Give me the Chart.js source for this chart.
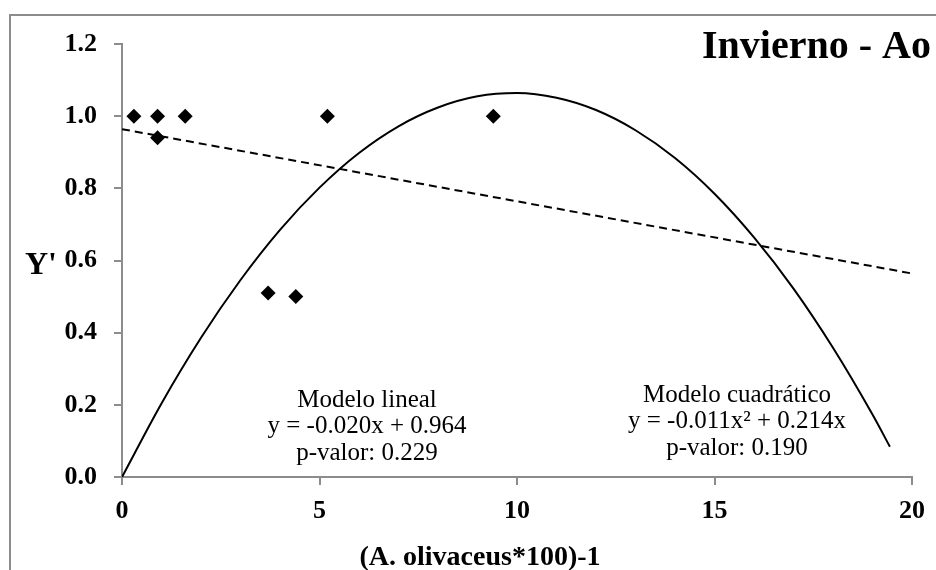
<!DOCTYPE html>
<html>
<head>
<meta charset="utf-8">
<script src="https://cdn.jsdelivr.net/npm/chart.js@4/dist/chart.umd.min.js"></script>
<style>
  html, body { margin: 0; padding: 0; background: #fff; }
  #wrap { position: relative; width: 936px; height: 570px; overflow: hidden; }
  #frame { position: absolute; left: 9px; top: 14px; width: 960px; height: 600px; border: 2px solid #8c8c8c; }
  canvas { position: absolute; left: 0; top: 0; }
</style>
</head>
<body>
<div id="wrap">
  <div id="frame"></div>
  <canvas id="chart" width="936" height="570"></canvas>
</div>
<script>
// observed points
const obsX = [0.3, 0.9, 0.9, 1.6, 3.7, 4.4, 5.2, 9.4];
const obsY = [1.0, 1.0, 0.94, 1.0, 0.51, 0.50, 1.0, 1.0];

// linear model (dashed), read at both ends
const linX = [0, 20];
const linY = [0.964, 0.564];

// quadratic model (solid)
const quadX = [0, 1, 2, 3, 4, 5, 6, 7, 8, 9, 10, 11, 12, 13, 14, 15, 16, 17, 18, 19, 19.44];
const quadY = [0.0, 0.204, 0.386, 0.546, 0.685, 0.802, 0.898, 0.972, 1.024, 1.055, 1.064,
               1.051, 1.017, 0.961, 0.884, 0.785, 0.664, 0.522, 0.358, 0.173, 0.084];

const xTicks = [0, 5, 10, 15, 20];
const yTicks = [0, 0.2, 0.4, 0.6, 0.8, 1.0, 1.2];

const toXY = (xs, ys) => xs.map((x, i) => ({ x: x, y: ys[i] }));

const SERIF = '"Liberation Serif", "Times New Roman", serif';
const AXIS = '#8c8c8c';

// texts drawn on top
const textPlugin = {
  id: 'texts',
  afterDraw(chart) {
    const ctx = chart.ctx;
    ctx.save();
    ctx.fillStyle = '#000';

    ctx.font = 'bold 40px ' + SERIF;
    ctx.textAlign = 'left';
    ctx.textBaseline = 'alphabetic';
    ctx.fillText('Invierno - Ao', 702, 58);

    ctx.font = 'bold 32px ' + SERIF;
    ctx.fillText("Y'", 25, 274);

    ctx.font = 'bold 28px ' + SERIF;
    ctx.textAlign = 'center';
    ctx.fillText('(A. olivaceus*100)-1', 480, 565);

    ctx.font = '25px ' + SERIF;
    ctx.textBaseline = 'middle';
    ['Modelo lineal', 'y = -0.020x + 0.964', 'p-valor: 0.229'].forEach((t, i) => {
      ctx.fillText(t, 367, 400 + i * 26.5);
    });
    ['Modelo cuadrático', 'y = -0.011x\u00b2 + 0.214x', 'p-valor: 0.190'].forEach((t, i) => {
      ctx.fillText(t, 737, 395 + i * 26.5);
    });
    ctx.restore();
  }
};

const ctx = document.getElementById('chart').getContext('2d');
const chart = new Chart(ctx, {
  type: 'scatter',
  data: {
    datasets: [
      {
        label: 'Observado',
        data: toXY(obsX, obsY),
        pointStyle: 'rectRot',
        pointRadius: 7.5,
        pointHoverRadius: 7.5,
        backgroundColor: '#000',
        borderColor: '#000',
        borderWidth: 0,
        showLine: false,
      },
      {
        label: 'Modelo cuadrático',
        data: toXY(quadX, quadY),
        showLine: true,
        borderColor: '#000',
        borderWidth: 2,
        pointRadius: 0,
        cubicInterpolationMode: 'monotone',
      },
      {
        label: 'Modelo lineal',
        data: toXY(linX, linY),
        showLine: true,
        borderColor: '#000',
        borderWidth: 2,
        borderDash: [8, 5],
        pointRadius: 0,
      },
    ],
  },
  options: {
    responsive: false,
    animation: false,
    layout: { padding: { top: 44, right: 22, left: 0, bottom: 0 } },
    plugins: {
      legend: { display: false },
      tooltip: { enabled: false },
      title: { display: false },
    },
    scales: {
      x: {
        type: 'linear',
        min: 0,
        max: 20,
        afterFit: (s) => { s.height = 93; },
        afterBuildTicks: (s) => { s.ticks = xTicks.map(v => ({ value: v })); },
        ticks: {
          color: '#000',
          font: { family: SERIF, size: 26, weight: 'bold' },
          padding: 11,
          maxRotation: 0,
        },
        grid: { drawOnChartArea: false, tickLength: 8, color: AXIS, lineWidth: 2 },
        border: { color: AXIS, width: 2 },
      },
      y: {
        min: 0,
        max: 1.2,
        afterFit: (s) => { s.width = 122; },
        afterBuildTicks: (s) => { s.ticks = yTicks.map(v => ({ value: v })); },
        ticks: {
          color: '#000',
          font: { family: SERIF, size: 26, weight: 'bold' },
          padding: 17,
          callback: (v) => v.toFixed(1),
        },
        grid: { drawOnChartArea: false, tickLength: 8, color: AXIS, lineWidth: 2 },
        border: { color: AXIS, width: 2 },
      },
    },
  },
  plugins: [textPlugin],
});
</script>
</body>
</html>
